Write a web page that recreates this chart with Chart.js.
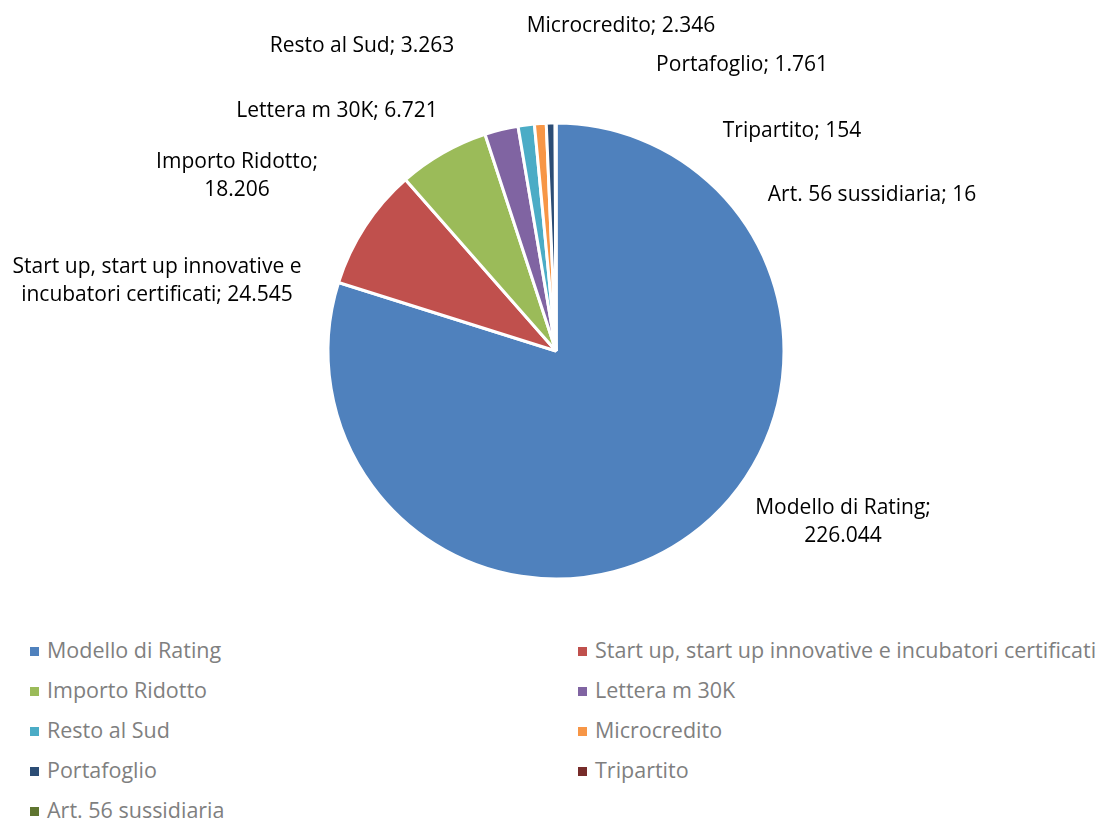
<!DOCTYPE html>
<html>
<head>
<meta charset="utf-8">
<script src="https://cdn.jsdelivr.net/npm/chart.js@4.4.0/dist/chart.umd.min.js"></script>
<style>
  html, body { margin: 0; padding: 0; background: #fff; }
  #wrap { position: relative; width: 1100px; height: 822px; }
  #pie { position: absolute; left: 0; top: 0; }
  #legend {
    position: absolute; left: 30px; top: 630px; width: 1070px;
    display: grid; grid-template-columns: 548px auto; row-gap: 0;
    font-family: "Open Sans", Lato, sans-serif; font-size: 21.5px; color: #7f7f7f;
  }
  #legend div { height: 40px; line-height: 40px; white-space: nowrap; }
  #legend span { display: inline-block; width: 9px; height: 9px; margin-right: 8px; vertical-align: 2px; }
</style>
</head>
<body>
<div id="wrap">
  <canvas id="pie" width="1100" height="622"></canvas>
  <div id="legend"></div>
</div>
<script>

// ==========================
// Data
// ==========================

const categories = [
    "Modello di Rating",
    "Start up, start up innovative e incubatori certificati",
    "Importo Ridotto",
    "Lettera m 30K",
    "Resto al Sud",
    "Microcredito",
    "Portafoglio",
    "Tripartito",
    "Art. 56 sussidiaria"
];

const values = [226044, 24545, 18206, 6721, 3263, 2346, 1761, 154, 16];

const colors = [
    "#4F81BD", "#C0504D", "#9BBB59", "#8064A2", "#4BACC6",
    "#F79646", "#2C4D75", "#772C2A", "#5F7530"
];

// label text lines (Excel style "Name; value")
const labelLines = [
    ["Modello di Rating;", "226.044"],
    ["Start up, start up innovative e", "incubatori certificati; 24.545"],
    ["Importo Ridotto;", "18.206"],
    ["Lettera m 30K; 6.721"],
    ["Resto al Sud; 3.263"],
    ["Microcredito; 2.346"],
    ["Portafoglio; 1.761"],
    ["Tripartito; 154"],
    ["Art. 56 sussidiaria; 16"]
];

// label centre, relative to pie centre, in units of the radius
const labelPos = [
    [1.259, 0.75],
    [-1.75, -0.307],
    [-1.399, -0.768],
    [-0.96, -1.053],
    [-0.851, -1.338],
    [0.285, -1.425],
    [0.816, -1.254],
    [1.035, -0.965],
    [1.386, -0.684]
];

// ==========================
// Outside labels plugin
// ==========================

const outsideLabels = {
    id: "outsideLabels",
    afterDraw(chart) {
        const ctx = chart.ctx;
        const arc = chart.getDatasetMeta(0).data[0];
        const cx = arc.x, cy = arc.y, r = arc.outerRadius;
        ctx.save();
        ctx.font = "21px 'Open Sans', Lato, sans-serif";
        ctx.fillStyle = "#000";
        ctx.textAlign = "center";
        ctx.textBaseline = "middle";
        labelLines.forEach((lines, i) => {
            const x = cx + labelPos[i][0] * r;
            const y = cy + labelPos[i][1] * r;
            const lh = 28;
            lines.forEach((t, j) => {
                ctx.fillText(t, x, y + (j - (lines.length - 1) / 2) * lh);
            });
        });
        ctx.restore();
    }
};

// ==========================
// Pie
// ==========================

new Chart(document.getElementById("pie"), {
    type: "pie",
    data: {
        labels: categories,
        datasets: [{
            data: values,
            backgroundColor: colors,
            borderColor: "#ffffff",
            borderWidth: 3
        }]
    },
    options: {
        responsive: false,
        animation: false,
        radius: 228,
        layout: { padding: { left: 12, top: 80, right: 0, bottom: 0 } },
        plugins: {
            legend: { display: false },
            tooltip: { enabled: false }
        }
    },
    plugins: [outsideLabels]
});

// ==========================
// Legend (two columns)
// ==========================

const legend = document.getElementById("legend");
categories.forEach((c, i) => {
    const d = document.createElement("div");
    d.innerHTML = '<span style="background:' + colors[i] + '"></span>' + c;
    legend.appendChild(d);
});

</script>
</body>
</html>
